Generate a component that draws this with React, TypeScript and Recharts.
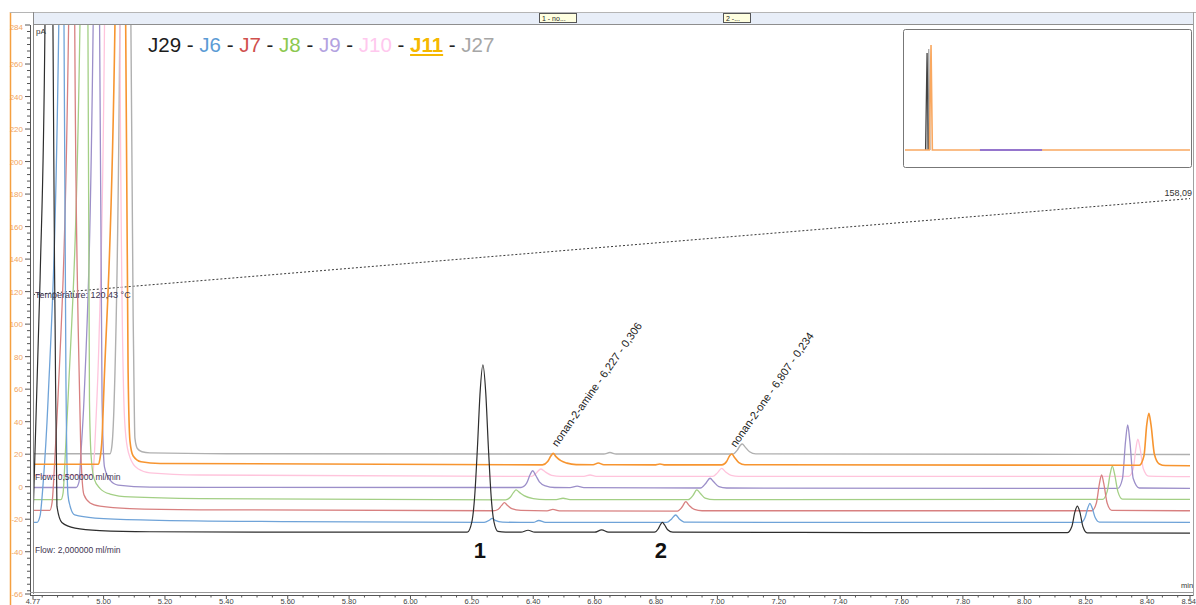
import { LineChart, Line, XAxis, YAxis, ReferenceDot } from 'recharts';

type Pt = [number, number];

// retention time (min), signal (pA)
const j29: Pt[] = [
  [4.77, -20], [4.793, 127], [4.809, 284], [4.822, 2500], [4.835, 284], [4.842, 100], [4.848, -12],
  [4.864, -22], [4.907, -25.5], [4.988, -27], [5.15, -27.7], [5.6, -28],
  [6.185, -28], [6.2, -21.6], [6.209, -6.4], [6.218, 23.5], [6.227, 58.5], [6.236, 75], [6.245, 58.5],
  [6.254, 23.5], [6.263, -6.4], [6.272, -21.6], [6.285, -27.5], [6.31, -28],
  [6.36, -28], [6.383, -26.8], [6.405, -28], [6.6, -28], [6.623, -26.6], [6.645, -28],
  [6.795, -28], [6.807, -26], [6.815, -23.2], [6.821, -22], [6.828, -23.5], [6.838, -26.5], [6.855, -28],
  [7.5, -28.2], [8.14, -28.3], [8.155, -24.5], [8.165, -15.5], [8.173, -11.9], [8.181, -15.5],
  [8.191, -24.5], [8.205, -28.4], [8.54, -28.5],
];
const j6: Pt[] = [
  [4.77, -22], [4.783, -22], [4.793, -18], [4.803, 2], [4.819, 53], [4.854, 284], [4.862, 2500],
  [4.871, 284], [4.878, 53], [4.884, -5], [4.891, -12], [4.906, -17.4], [4.972, -19.3], [5.15, -20.5],
  [5.6, -21.5], [6.24, -22], [6.258, -20.5], [6.266, -19.5], [6.276, -20.7], [6.3, -21.8],
  [6.4, -22], [6.418, -20.8], [6.44, -21.9], [6.835, -22], [6.851, -19.8], [6.864, -17.4],
  [6.876, -19.8], [6.895, -21.8], [7.5, -22], [8.185, -22], [8.198, -19], [8.207, -13], [8.214, -10.2],
  [8.221, -13], [8.231, -19], [8.245, -21.8], [8.54, -22],
];
const j7: Pt[] = [
  [4.77, -14.5], [4.825, -14.5], [4.832, -10], [4.842, 20], [4.851, 53], [4.886, 284], [4.895, 2500],
  [4.906, 284], [4.917, 100], [4.926, 20], [4.936, -5], [4.956, -10], [4.988, -12], [5.086, -13.5],
  [5.314, -14.2], [6.27, -14.8], [6.285, -14], [6.297, -11.5], [6.306, -9.8], [6.316, -11.5],
  [6.33, -13.5], [6.36, -14.6], [6.445, -14.9], [6.464, -14], [6.485, -14.9], [6.87, -15],
  [6.885, -12.5], [6.897, -9.2], [6.908, -11.5], [6.925, -14], [6.95, -14.8], [8.22, -14.8],
  [8.235, -10], [8.245, 2], [8.252, 7.2], [8.259, 2], [8.27, -10], [8.285, -14.6], [8.54, -14.8],
];
const j8: Pt[] = [
  [4.77, -8], [4.861, -8], [4.868, -4], [4.874, 15], [4.884, 53], [4.923, 284], [4.936, 2500],
  [4.949, 284], [4.954, 53], [4.959, 20], [4.969, 5], [4.988, -1], [5.021, -4.5], [5.086, -6.3],
  [5.314, -7.3], [6.31, -8.1], [6.325, -6.5], [6.336, -3.5], [6.344, -2], [6.355, -3.5], [6.37, -5.5],
  [6.4, -7.3], [6.44, -8], [6.475, -8], [6.497, -7.1], [6.52, -8], [6.905, -8], [6.92, -5.5],
  [6.933, -2], [6.944, -4], [6.96, -7], [6.99, -8], [8.255, -7.8], [8.27, -3], [8.28, 8],
  [8.287, 12.7], [8.294, 8], [8.305, -3], [8.32, -7.6], [8.54, -7.8],
];
const j9: Pt[] = [
  [4.77, -0.5], [4.91, -0.5], [4.92, 3], [4.926, 20], [4.936, 53], [4.966, 284], [4.976, 2500],
  [4.987, 284], [4.995, 53], [5.003, 12], [5.021, 4], [5.047, 1], [5.151, -0.3], [6.36, -0.5],
  [6.378, 2], [6.39, 7.5], [6.398, 9.8], [6.408, 7], [6.42, 3], [6.44, 0.5], [6.47, -0.5],
  [6.52, -0.6], [6.543, 0.3], [6.565, -0.6], [6.945, -0.8], [6.962, 2], [6.976, 5.2], [6.988, 3],
  [7.005, 0], [7.03, -0.8], [8.305, -1], [8.32, 5], [8.33, 28], [8.337, 38], [8.344, 28],
  [8.355, 5], [8.375, -0.8], [8.54, -1],
];
const j10: Pt[] = [
  [4.77, 7], [4.96, 7], [4.966, 10], [4.975, 40], [4.985, 90], [5.003, 284], [5.028, 2500],
  [5.053, 284], [5.066, 53], [5.073, 30], [5.086, 18], [5.112, 11], [5.151, 8.5], [5.314, 7.2],
  [6.395, 6.3], [6.41, 8.5], [6.425, 10.9], [6.44, 9], [6.46, 7], [6.49, 6.3], [6.565, 6.3],
  [6.585, 7.2], [6.605, 6.3], [6.985, 6.3], [7.0, 8.5], [7.014, 11.3], [7.027, 9], [7.045, 7],
  [7.07, 6.3], [8.34, 6.3], [8.355, 11], [8.364, 24], [8.37, 29.2], [8.377, 24], [8.388, 11],
  [8.405, 6.5], [8.54, 6.2],
];
const j11: Pt[] = [
  [4.77, 13.8], [4.982, 13.8], [4.988, 17], [4.995, 30], [5.001, 60], [5.037, 284], [5.054, 2500],
  [5.072, 284], [5.08, 70], [5.086, 28], [5.096, 19], [5.122, 15.3], [5.184, 14.3], [6.43, 13.4],
  [6.447, 15.5], [6.458, 19], [6.465, 20.5], [6.474, 18.5], [6.49, 16], [6.51, 14.5], [6.54, 13.6],
  [6.595, 13.5], [6.612, 14.6], [6.63, 13.5], [6.795, 13.4], [6.813, 14], [6.83, 13.4],
  [7.015, 13.4], [7.03, 15.5], [7.04, 19], [7.047, 20.1], [7.056, 18], [7.07, 14.8], [7.09, 13.5],
  [8.375, 13.2], [8.39, 19], [8.399, 38], [8.406, 45.2], [8.413, 38], [8.424, 20], [8.44, 14],
  [8.46, 13], [8.54, 12.9],
];
const j27: Pt[] = [
  [4.77, 20.3], [5.021, 20.3], [5.027, 25], [5.034, 50], [5.053, 284], [5.07, 2500], [5.089, 284],
  [5.098, 80], [5.102, 30], [5.11, 23.5], [5.125, 21.5], [5.151, 20.8], [5.4, 20.3],
  [6.63, 20.1], [6.65, 21], [6.67, 20.1], [7.05, 20.1], [7.065, 22.5], [7.075, 25.5], [7.081, 26.3],
  [7.09, 24.5], [7.105, 21.5], [7.125, 20.2], [8.54, 19.8],
];

// oven temperature programme (°C)
const tempTimes = [4.77, 8.54];
const tempValues = [120.43, 158.09];

// overview inset (whole run)
const insetOrange: Pt[] = [[0.2, 0], [1.68, 0], [1.78, 309], [1.86, 0], [17.5, 0]];
const insetBlack: Pt[] = [[1.45, 0], [1.54, 285], [1.62, 0]];
const insetGray: Pt[] = [[1.55, 0], [1.64, 297], [1.72, 0]];
const insetWindow: Pt[] = [[4.75, 0], [8.52, 0]];

const xLabels = [4.77, 5.0, 5.2, 5.4, 5.6, 5.8, 6.0, 6.2, 6.4, 6.6, 6.8, 7.0, 7.2, 7.4, 7.6, 7.8, 8.0, 8.2, 8.4, 8.54];
const yLabels = [284, 260, 240, 220, 200, 180, 160, 140, 120, 100, 80, 60, 40, 20, 0, -20, -40, -66];

const xTicks = [4.77];
for (let i = 0; i <= 74; i++) xTicks.push(Math.round((4.8 + i * 0.05) * 100) / 100);
xTicks.push(8.54);
const yTicks = [-66];
for (let v = -64; v <= 284; v += 4) yTicks.push(v);

const series = [
  { name: 'J27', pts: j27, color: '#b0b0b0', w: 1.4 },
  { name: 'J10', pts: j10, color: '#ffc4dc', w: 1.3 },
  { name: 'J9', pts: j9, color: '#9c8fc9', w: 1.3 },
  { name: 'J8', pts: j8, color: '#a3cf85', w: 1.3 },
  { name: 'J7', pts: j7, color: '#d88080', w: 1.3 },
  { name: 'J6', pts: j6, color: '#6fa3d8', w: 1.3 },
  { name: 'J11', pts: j11, color: '#f79530', w: 1.6 },
  { name: 'J29', pts: j29, color: '#2e2e2e', w: 1.2 },
];

const legend = [
  { t: 'J29', c: '#1c1c1c' },
  { t: 'J6', c: '#5b9bd5' },
  { t: 'J7', c: '#d0504d' },
  { t: 'J8', c: '#8cc84f' },
  { t: 'J9', c: '#b3a2e0' },
  { t: 'J10', c: '#ffc8ee' },
  { t: 'J11', c: '#f5b800', bold: true },
  { t: 'J27', c: '#a6a6a6' },
];

const toPts = (arr: Pt[]) => arr.map(([t, v]) => ({ t, v }));
const FONT = '"Liberation Sans", Arial, sans-serif';
const labelColor = '#3d3350';

const XTick = (props: any) => {
  const { x, payload } = props;
  const v = payload.value;
  const major = xLabels.includes(v);
  const last = v === 8.54;
  return (
    <g>
      <line x1={x} x2={x} y1={595} y2={major ? 599 : 597.5} stroke="#555" />
      {major && (
        <text
          x={last ? 1196 : x}
          y={603.5}
          textAnchor={last ? 'end' : 'middle'}
          fontSize={7.5}
          fill="#444"
          fontFamily={FONT}
        >
          {v.toFixed(2)}
        </text>
      )}
    </g>
  );
};

const YTick = (props: any) => {
  const { y, payload } = props;
  const v = payload.value;
  const major = yLabels.includes(v);
  return (
    <g>
      <line x1={major ? 25 : 27} x2={30} y1={y} y2={y} stroke="#555" />
      {major && (
        <text x={23} y={v === 284 ? y + 5 : y + 3} textAnchor="end" fontSize={8} fill="#f2a55e" fontFamily={FONT}>
          {v}
        </text>
      )}
    </g>
  );
};

const rotLabel = (text: string) => (p: any) => (
  <text
    transform={`translate(${p.cx + 4},${p.cy - 6}) rotate(-55)`}
    fontSize={11}
    fill="#222"
    fontFamily={FONT}
  >
    {text}
  </text>
);

const bigLabel = (text: string) => (p: any) => (
  <text x={p.cx} y={p.cy + 8} textAnchor="middle" fontSize={22} fontWeight="bold" fill="#111" fontFamily={FONT}>
    {text}
  </text>
);

export default function App() {
  const tempPts = tempTimes.map((t, i) => ({ t, v: tempValues[i] }));
  return (
    <div style={{ position: 'absolute', left: 0, top: 0, width: 1196, height: 605, background: '#fff', overflow: 'hidden' }}>
      <LineChart width={1196} height={605} margin={{ top: 25, right: 6, bottom: 0, left: 0 }}>
        <XAxis
          dataKey="t"
          type="number"
          domain={[4.77, 8.54]}
          allowDataOverflow
          ticks={xTicks}
          interval={0}
          tick={<XTick />}
          axisLine={false}
          tickLine={false}
          height={11}
        />
        <YAxis
          type="number"
          domain={[-66, 284]}
          allowDataOverflow
          ticks={yTicks}
          interval={0}
          tick={<YTick />}
          axisLine={false}
          tickLine={false}
          width={33}
        />
        <YAxis yAxisId="temp" orientation="right" hide domain={[2.95, 226.2]} allowDataOverflow />

        <Line
          yAxisId="temp"
          data={tempPts}
          dataKey="v"
          type="linear"
          stroke="#222"
          strokeWidth={0.9}
          strokeDasharray="2 2"
          dot={false}
          isAnimationActive={false}
        />
        {series.map((s) => (
          <Line
            key={s.name}
            data={toPts(s.pts)}
            dataKey="v"
            name={s.name}
            type="monotone"
            stroke={s.color}
            strokeWidth={s.w}
            dot={false}
            isAnimationActive={false}
          />
        ))}

        <ReferenceDot x={6.465} y={20.5} r={0} shape={rotLabel('nonan-2-amine - 6,227 - 0,306')} />
        <ReferenceDot x={7.047} y={20.1} r={0} shape={rotLabel('nonan-2-one - 6,807 - 0,234')} />
        <ReferenceDot x={6.226} y={-39} r={0} shape={bigLabel('1')} />
        <ReferenceDot x={6.816} y={-39} r={0} shape={bigLabel('2')} />
        <ReferenceDot
          yAxisId="temp"
          x={tempTimes[0]}
          y={tempValues[0]}
          r={0}
          shape={(p: any) => (
            <text x={p.cx + 2} y={p.cy + 3} fontSize={9} fill={labelColor} fontFamily={FONT}>
              Temperature: 120,43 °C
            </text>
          )}
        />
        <ReferenceDot
          yAxisId="temp"
          x={tempTimes[1]}
          y={tempValues[1]}
          r={0}
          ifOverflow="visible"
          shape={(p: any) => (
            <text x={p.cx + 2} y={p.cy - 3} textAnchor="end" fontSize={9} fill="#333" fontFamily={FONT}>
              158,09
            </text>
          )}
        />
      </LineChart>

      <svg width={1196} height={605} style={{ position: 'absolute', left: 0, top: 0, pointerEvents: 'none' }}>
        <line x1={10.5} x2={10.5} y1={12} y2={605} stroke="#f5a040" strokeWidth={1.5} />
        <rect x={33} y={12} width={1160} height={12} fill="#e8eef8" />
        <line x1={10} x2={1196} y1={12.5} y2={12.5} stroke="#b5b5b5" />
        <line x1={33} x2={1193} y1={24.5} y2={24.5} stroke="#8e8e8e" />
        <rect x={539.5} y={13.5} width={37} height={9} fill="#ffffe0" stroke="#555" />
        <text x={542} y={21} fontSize={7} fill="#222" fontFamily={FONT}>1 - no...</text>
        <rect x={723.5} y={13.5} width={27} height={9} fill="#ffffe0" stroke="#555" />
        <text x={726} y={21} fontSize={7} fill="#222" fontFamily={FONT}>2 -...</text>
        <line x1={33.5} x2={33.5} y1={12} y2={594} stroke="#8a8a8a" />
        <line x1={30.5} x2={30.5} y1={25} y2={595} stroke="#555" />
        <line x1={30} x2={1193} y1={592.5} y2={592.5} stroke="#999" />
        <line x1={30} x2={1193} y1={595.5} y2={595.5} stroke="#555" />
        <line x1={1193.5} x2={1193.5} y1={12} y2={596} stroke="#a0a0a0" />
        <text x={36} y={34} fontSize={8} fill="#333" fontFamily={FONT}>pA</text>
        <text x={1181} y={588} fontSize={7.5} fill="#333" fontFamily={FONT}>min</text>
        <text x={35} y={480} fontSize={8.5} fill={labelColor} fontFamily={FONT}>Flow: 0,500000 ml/min</text>
        <text x={35} y={553} fontSize={8.5} fill={labelColor} fontFamily={FONT}>Flow: 2,000000 ml/min</text>
        <rect x={903.5} y={29.5} width={288} height={138} rx={2} fill="#fff" stroke="#777" />
      </svg>

      <div
        style={{
          position: 'absolute',
          left: 148,
          top: 33,
          fontFamily: FONT,
          fontSize: 20.5,
          lineHeight: '24px',
          whiteSpace: 'nowrap',
          color: '#333',
        }}
      >
        {legend.map((l, i) => (
          <span key={l.t}>
            {i > 0 && <span style={{ color: '#222' }}> - </span>}
            <span
              style={{
                color: l.c,
                fontWeight: l.bold ? 'bold' : 'normal',
                textDecoration: l.bold ? 'underline' : 'none',
              }}
            >
              {l.t}
            </span>
          </span>
        ))}
      </div>

      <div style={{ position: 'absolute', left: 904, top: 30, width: 287, height: 137 }}>
        <LineChart width={287} height={137} margin={{ top: 0, right: 1, bottom: 0, left: 1 }}>
          <XAxis dataKey="t" type="number" hide domain={[0.2, 17.5]} allowDataOverflow />
          <YAxis hide domain={[-50, 353]} allowDataOverflow />
          <Line data={toPts(insetGray)} dataKey="v" type="linear" stroke="#a8a8a8" strokeWidth={1.3} dot={false} isAnimationActive={false} />
          <Line data={toPts(insetBlack)} dataKey="v" type="linear" stroke="#444" strokeWidth={1.3} dot={false} isAnimationActive={false} />
          <Line data={toPts(insetOrange)} dataKey="v" type="linear" stroke="#f9a860" strokeWidth={1.6} dot={false} isAnimationActive={false} />
          <Line data={toPts(insetWindow)} dataKey="v" type="linear" stroke="#9575cd" strokeWidth={2.2} dot={false} isAnimationActive={false} />
        </LineChart>
      </div>
    </div>
  );
}
